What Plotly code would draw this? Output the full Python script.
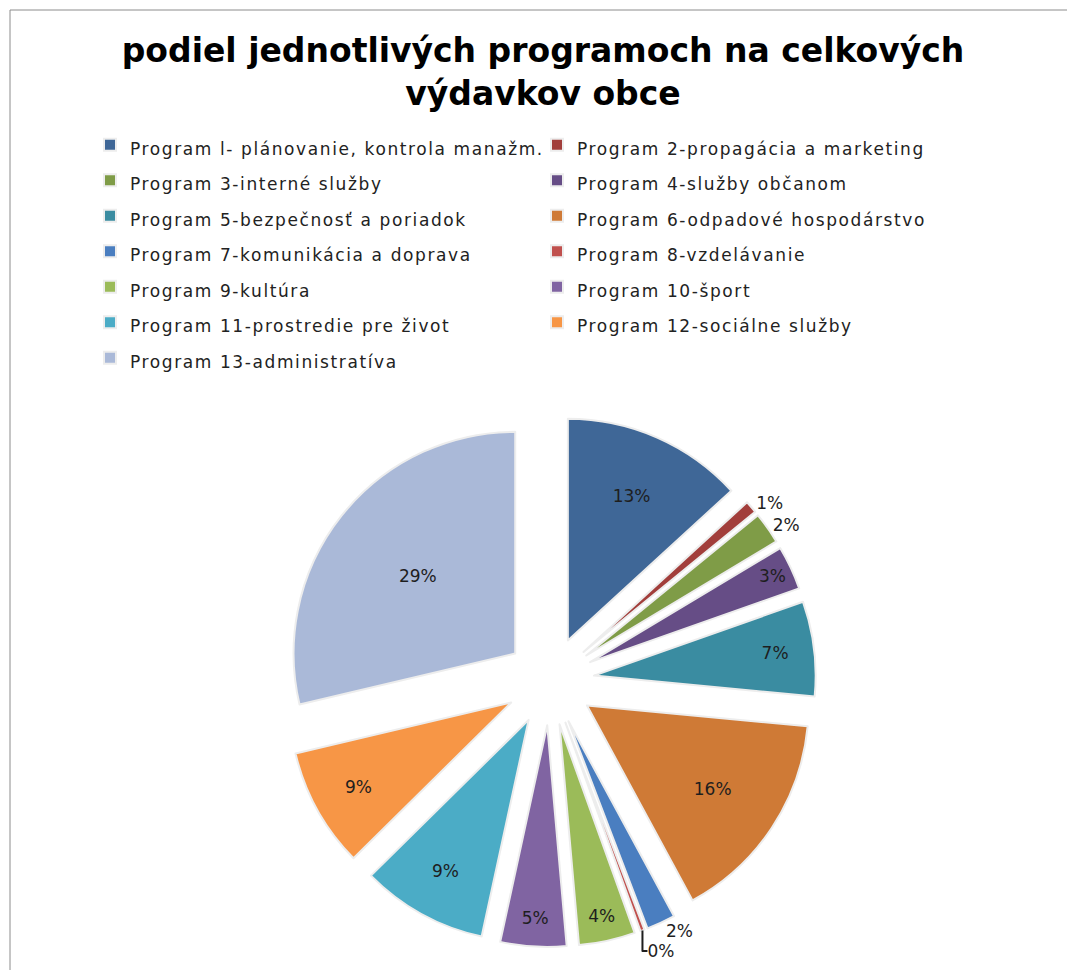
import plotly.graph_objects as go

labels = [
    "Program l- plánovanie, kontrola manažm.",
    "Program 2-propagácia a marketing",
    "Program 3-interné služby",
    "Program 4-služby občanom",
    "Program 5-bezpečnosť a poriadok",
    "Program 6-odpadové hospodárstvo",
    "Program 7-komunikácia a doprava",
    "Program 8-vzdelávanie",
    "Program 9-kultúra",
    "Program 10-šport",
    "Program 11-prostredie pre život",
    "Program 12-sociálne služby",
    "Program 13-administratíva",
]
values = [13.2, 0.9, 2.3, 3.2, 6.9, 15.6, 2.1, 0.3, 4.1, 4.8, 9.2, 8.7, 28.7]
colors = ["#3F6797", "#A23E3B", "#7F9C47", "#664D86", "#3A8CA1", "#CF7A36",
          "#4A7EC0", "#C0504D", "#9BBB59", "#8064A2", "#4BACC6", "#F79646", "#AAB9D8"]

W, H = 1067, 970
cx, cy, half = 550, 681, 266

legend_names = ['<span style="font-size:17px;letter-spacing:1.6px">%s</span>' % l for l in labels]

fig = go.Figure(go.Pie(
    labels=legend_names,
    values=values,
    sort=False,
    direction="clockwise",
    rotation=0,
    pull=[0.2] * len(values),
    marker=dict(colors=colors, line=dict(color="#EDEDED", width=2)),
    texttemplate="%{percent:.0%}",
    textposition="auto",
    insidetextorientation="horizontal",
    textfont=dict(family="DejaVu Sans", size=17, color="#1E1E1E"),
    hoverinfo="label+percent",
    domain=dict(x=[(cx - half) / W, (cx + half) / W],
                y=[(H - cy - half) / H, (H - cy + half) / H]),
))

fig.update_layout(
    width=W, height=H, autosize=False,
    margin=dict(l=0, r=0, t=0, b=0, autoexpand=False),
    paper_bgcolor="white",
    plot_bgcolor="white",
    title=dict(
        text="podiel jednotlivých programoch na celkových<br>výdavkov obce",
        x=543 / W, xanchor="center",
        y=1 - 62 / H, yanchor="top",
        font=dict(family="DejaVu Sans", size=33, color="#000000", weight="bold"),
    ),
    legend=dict(
        orientation="h",
        x=90 / W, xanchor="left",
        y=1 - 122 / H, yanchor="top",
        font=dict(family="DejaVu Sans", size=25, color="#222222"),
        entrywidth=402, entrywidthmode="pixels",
        bgcolor="rgba(0,0,0,0)",
    ),
    shapes=[dict(type="rect", xref="paper", yref="paper",
                 x0=10 / W, x1=1.02, y0=-0.02, y1=1 - 10 / H,
                 line=dict(color="#8C8C8C", width=1))],
)

fig.write_html("out.html", config={"responsive": False, "displayModeBar": False},
               post_script="document.body.style.margin='0';document.body.style.overflow='hidden';")
